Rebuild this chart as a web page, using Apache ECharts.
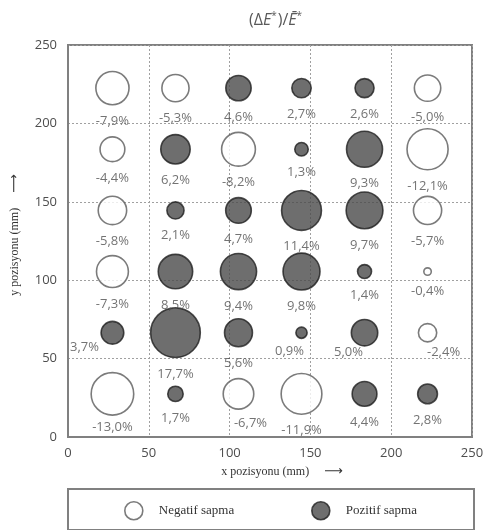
<!DOCTYPE html>
<html>
<head>
<meta charset="utf-8">
<script src="https://cdn.jsdelivr.net/npm/echarts@6/dist/echarts.min.js"></script>
<style>
  html, body { margin: 0; padding: 0; background: #fff; }
  #chart { width: 495px; height: 530px; }
</style>
</head>
<body>
<div id="chart"></div>
<script>
// Measurement grid centres (mm)
const colX = [27.5, 66.5, 105.5, 144.5, 183.5, 222.5];
const rowY = [222.5, 183.5, 144.5, 105.5, 66.5, 27.5];

// Relative deviation (%) per measurement point, rows top to bottom, columns left to right
const row1 = [-7.9, -5.3, 4.6, 2.7, 2.6, -5.0];
const row2 = [-4.4, 6.2, -8.2, 1.3, 9.3, -12.1];
const row3 = [-5.8, 2.1, 4.7, 11.4, 9.7, -5.7];
const row4 = [-7.3, 8.5, 9.4, 9.8, 1.4, -0.4];
const row5 = [3.7, 17.7, 5.6, 0.9, 5.0, -2.4];
const row6 = [-13.0, 1.7, -6.7, -11.9, 4.4, 2.8];
const deviation = [row1, row2, row3, row4, row5, row6];

const axisTicks = [0, 50, 100, 150, 200, 250];
const seriesNames = ['Negatif sapma', 'Pozitif sapma'];

// Labels that sit beside their bubble instead of straight below (row,col -> [dx, dy])
const labelNudge = {
  '4,0': [-28, -13],
  '4,3': [-12, -3],
  '4,4': [-16, -10],
  '4,5': [16, -6],
  '5,2': [12, -2],
  '5,0': [0, -4]
};

const negPoints = [];
const posPoints = [];
deviation.forEach((row, r) => {
  row.forEach((v, c) => {
    const item = { value: [colX[c], rowY[r], v] };
    const nudge = labelNudge[r + ',' + c];
    if (nudge) item.label = { offset: nudge };
    (v < 0 ? negPoints : posPoints).push(item);
  });
});

const fmt = v => v.toFixed(1).replace('.', ',') + '%';
const bubbleSize = val => 11.8 * Math.sqrt(Math.abs(val[2]));

const negStyle = { color: '#ffffff', borderColor: '#5a5a5a', borderWidth: 1.6 };
const posStyle = { color: '#4a4a4a', borderColor: '#1f1f1f', borderWidth: 1.6 };

const valueLabel = {
  show: true,
  position: 'bottom',
  distance: 9,
  formatter: p => fmt(p.value[2]),
  fontFamily: 'Open Sans',
  fontSize: 13,
  color: '#505050'
};

const tickLabel = {
  fontFamily: 'Open Sans',
  fontSize: 13,
  color: '#4d4d4d',
  formatter: v => axisTicks.includes(v) ? String(v) : ''
};

// Axis title: serif caption followed by a direction arrow
const axisNameStyle = {
  fontFamily: 'Liberation Serif',
  fontSize: 12,
  color: '#333',
  rich: {
    t: { fontFamily: 'Liberation Serif', fontSize: 12, color: '#333' },
    a: { fontFamily: 'DejaVu Sans', fontSize: 13, color: '#333' }
  }
};

const chart = echarts.init(document.getElementById('chart'), null, { renderer: 'canvas' });

chart.setOption({
  backgroundColor: '#ffffff',
  animation: false,
  title: {
    text: '(Δ{i|E}{s|*})/{i|Ē}{s|*}',
    left: 271,
    textAlign: 'center',
    top: 6,
    textStyle: {
      fontFamily: 'Open Sans',
      fontSize: 16,
      color: '#5a5a5a',
      fontWeight: 'normal',
      rich: {
        i: { fontFamily: 'Open Sans', fontSize: 16, fontStyle: 'italic', color: '#5a5a5a' },
        s: { fontFamily: 'Open Sans', fontSize: 10, color: '#5a5a5a', padding: [0, 1, 8, 0] }
      }
    }
  },
  grid: {
    left: 68, right: 23, top: 45, bottom: 93,
    show: true,
    borderColor: '#808080',
    borderWidth: 2,
    backgroundColor: 'transparent'
  },
  xAxis: {
    type: 'value',
    min: 0, max: 250, interval: 50,
    name: '{t|x pozisyonu (mm)}     {a|⟶}',
    nameLocation: 'middle',
    nameGap: 28,
    nameTextStyle: Object.assign({ padding: [0, 0, 0, 24] }, axisNameStyle),
    axisLine: { show: true, lineStyle: { color: '#808080', width: 2 } },
    axisTick: { show: false },
    axisLabel: Object.assign({ margin: 10 }, tickLabel),
    splitLine: { show: true, lineStyle: { color: '#a0a0a0', width: 1, type: [2, 2] } }
  },
  yAxis: {
    type: 'value',
    min: 0, max: 250, interval: 50,
    name: '{t|y pozisyonu (mm)}     {a|⟶}',
    nameLocation: 'middle',
    nameGap: 47,
    nameRotate: 90,
    nameTextStyle: Object.assign({ padding: [0, 0, 0, 12] }, axisNameStyle),
    axisLine: { show: true, lineStyle: { color: '#808080', width: 2 } },
    axisTick: { show: false },
    axisLabel: Object.assign({ margin: 11 }, tickLabel),
    splitLine: { show: true, lineStyle: { color: '#a0a0a0', width: 1, type: [2, 2] } }
  },
  legend: [
    {
      data: [{ name: seriesNames[0], icon: 'circle', itemStyle: negStyle }],
      left: 124, top: 501, padding: 0,
      itemWidth: 18, itemHeight: 18,
      selectedMode: false,
      textStyle: { fontFamily: 'Liberation Serif', fontSize: 13, color: '#333', padding: [0, 0, 0, 11] }
    },
    {
      data: [{ name: seriesNames[1], icon: 'circle', itemStyle: posStyle }],
      left: 311, top: 501, padding: 0,
      itemWidth: 18, itemHeight: 18,
      selectedMode: false,
      textStyle: { fontFamily: 'Liberation Serif', fontSize: 13, color: '#333', padding: [0, 0, 0, 11] }
    }
  ],
  graphic: [
    {
      type: 'rect',
      shape: { x: 68, y: 489, width: 406, height: 41 },
      style: { fill: 'none', stroke: '#808080', lineWidth: 2 },
      silent: true
    }
  ],
  series: [
    {
      name: seriesNames[0],
      type: 'scatter',
      data: negPoints,
      symbol: 'circle',
      symbolSize: bubbleSize,
      itemStyle: negStyle,
      label: valueLabel,
      emphasis: { disabled: true }
    },
    {
      name: seriesNames[1],
      type: 'scatter',
      data: posPoints,
      symbol: 'circle',
      symbolSize: bubbleSize,
      itemStyle: posStyle,
      label: valueLabel,
      emphasis: { disabled: true }
    }
  ]
});
</script>
</body>
</html>
